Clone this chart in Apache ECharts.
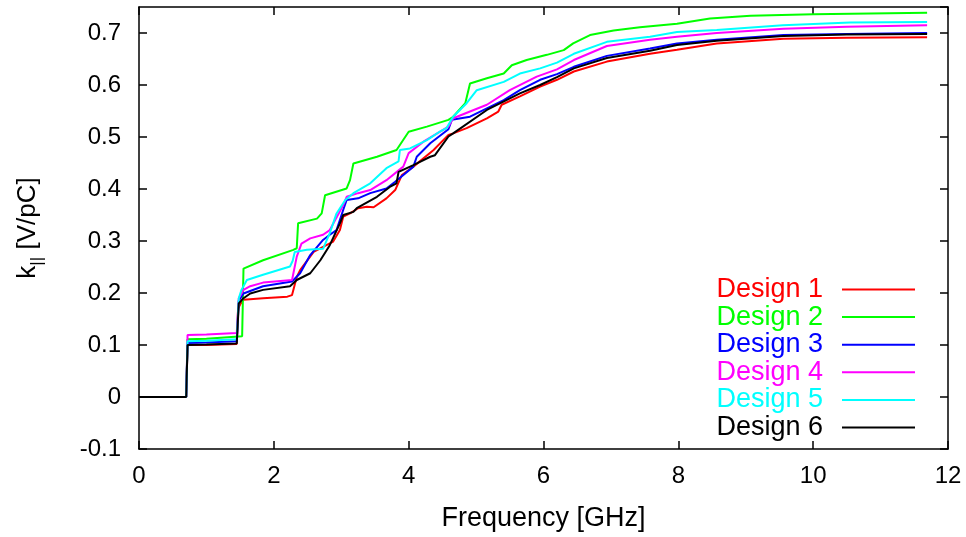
<!DOCTYPE html>
<html>
<head>
<meta charset="utf-8">
<script src="https://cdn.jsdelivr.net/npm/echarts@6/dist/echarts.min.js"></script>
<style>html,body{margin:0;padding:0;background:#fff}#c{width:966px;height:537px}</style>
</head>
<body>
<div id="c"></div>
<script>
var seriesNames = ['Design 1','Design 2','Design 3','Design 4','Design 5','Design 6'];
var seriesColors = ['#ff0000','#00ff00','#0000ff','#ff00ff','#00ffff','#000000'];
var xTicks = [0,2,4,6,8,10,12];
var yTicks = [-0.1,0,0.1,0.2,0.3,0.4,0.5,0.6,0.7];

var d1 = [[0,0],[0.70,0],[0.72,0.100],[1.0,0.100],[1.45,0.102],[1.47,0.170],[1.50,0.178],[1.55,0.187],[1.84,0.190],[2.2,0.193],[2.27,0.196],[2.34,0.231],[2.39,0.244],[2.59,0.279],[2.78,0.292],[2.88,0.299],[2.98,0.321],[3.03,0.347],[3.13,0.353],[3.25,0.363],[3.38,0.366],[3.48,0.365],[3.67,0.382],[3.80,0.398],[3.90,0.427],[4.07,0.443],[4.37,0.475],[4.59,0.504],[4.66,0.507],[4.86,0.517],[5.16,0.536],[5.33,0.549],[5.38,0.562],[5.65,0.578],[5.95,0.597],[6.20,0.610],[6.45,0.626],[6.94,0.645],[7.58,0.660],[7.98,0.668],[8.57,0.680],[9.56,0.689],[10.5,0.691],[11.69,0.692]];
var d2 = [[0,0],[0.70,0],[0.72,0.111],[1.0,0.112],[1.53,0.117],[1.55,0.247],[1.84,0.263],[2.29,0.283],[2.34,0.286],[2.36,0.334],[2.64,0.343],[2.71,0.353],[2.76,0.388],[3.08,0.401],[3.13,0.417],[3.18,0.449],[3.53,0.462],[3.82,0.475],[4.0,0.510],[4.27,0.520],[4.59,0.533],[4.66,0.539],[4.84,0.565],[4.91,0.603],[5.16,0.613],[5.41,0.622],[5.53,0.638],[5.75,0.648],[6.05,0.658],[6.30,0.667],[6.44,0.680],[6.69,0.696],[7.04,0.705],[7.43,0.711],[7.98,0.718],[8.47,0.728],[9.07,0.733],[10.0,0.736],[11.69,0.739]];
var d3 = [[0,0],[0.70,0],[0.72,0.104],[1.0,0.105],[1.45,0.107],[1.48,0.185],[1.55,0.199],[1.84,0.213],[2.27,0.222],[2.39,0.238],[2.54,0.273],[2.73,0.302],[2.83,0.312],[2.93,0.321],[3.03,0.360],[3.08,0.379],[3.25,0.382],[3.43,0.392],[3.67,0.401],[3.80,0.414],[4.07,0.443],[4.12,0.462],[4.32,0.488],[4.59,0.515],[4.64,0.533],[4.91,0.539],[5.41,0.571],[5.65,0.590],[5.95,0.610],[6.20,0.621],[6.45,0.635],[6.94,0.656],[7.58,0.670],[7.98,0.680],[8.57,0.687],[9.56,0.696],[10.5,0.698],[11.69,0.700]];
var d4 = [[0,0],[0.70,0],[0.72,0.119],[1.0,0.120],[1.45,0.123],[1.48,0.190],[1.55,0.206],[1.65,0.213],[1.84,0.220],[2.27,0.225],[2.34,0.270],[2.41,0.295],[2.54,0.305],[2.73,0.312],[2.83,0.321],[3.03,0.369],[3.08,0.385],[3.25,0.392],[3.43,0.398],[3.67,0.417],[3.92,0.443],[4.0,0.469],[4.22,0.491],[4.59,0.520],[4.66,0.536],[5.16,0.562],[5.50,0.590],[5.90,0.616],[6.20,0.630],[6.45,0.648],[6.94,0.675],[7.58,0.687],[7.98,0.693],[8.57,0.700],[9.56,0.708],[10.5,0.712],[11.69,0.715]];
var d5 = [[0,0],[0.70,0],[0.72,0.107],[1.0,0.108],[1.45,0.111],[1.48,0.190],[1.52,0.206],[1.60,0.225],[1.84,0.235],[2.24,0.251],[2.28,0.262],[2.31,0.279],[2.49,0.283],[2.73,0.285],[2.83,0.315],[2.93,0.353],[3.06,0.379],[3.18,0.392],[3.43,0.411],[3.67,0.440],[3.85,0.453],[3.87,0.475],[4.02,0.478],[4.27,0.494],[4.47,0.511],[4.56,0.517],[4.66,0.539],[4.86,0.565],[5.01,0.590],[5.41,0.606],[5.65,0.622],[5.95,0.632],[6.20,0.643],[6.45,0.660],[6.94,0.683],[7.58,0.693],[7.98,0.702],[8.57,0.706],[9.55,0.715],[10.55,0.720],[11.69,0.721]];
var d6 = [[0,0],[0.70,0],[0.72,0.100],[1.0,0.101],[1.45,0.103],[1.48,0.180],[1.55,0.190],[1.65,0.199],[1.84,0.206],[2.24,0.213],[2.34,0.225],[2.54,0.238],[2.69,0.263],[2.83,0.292],[2.98,0.334],[3.03,0.350],[3.18,0.356],[3.23,0.363],[3.53,0.385],[3.72,0.404],[3.82,0.411],[3.85,0.433],[4.07,0.446],[4.32,0.462],[4.39,0.465],[4.59,0.501],[4.66,0.507],[5.16,0.552],[5.65,0.584],[5.95,0.600],[6.20,0.615],[6.45,0.632],[6.94,0.652],[7.58,0.666],[7.98,0.677],[8.57,0.685],[9.56,0.694],[10.5,0.697],[11.69,0.698]];
var allData = [d1,d2,d3,d4,d5,d6];

var FONT = 'Liberation Sans, Arial, sans-serif';
var chart = echarts.init(document.getElementById('c'), null, {renderer:'canvas'});

var axisLine = {show:true, onZero:false, lineStyle:{color:'#000', width:1.5}};
var axisTick = {show:true, inside:true, length:8, lineStyle:{color:'#000', width:1.5}};

var series = seriesNames.map(function(n,i){
  return {
    name:n, type:'line', xAxisIndex:0, yAxisIndex:0,
    data: allData[i], symbol:'none', smooth:false, animation:false,
    lineStyle:{color:seriesColors[i], width:2}, itemStyle:{color:seriesColors[i]}
  };
});

chart.setOption({
  animation:false,
  backgroundColor:'#fff',
  grid:{left:139, right:18, top:7, bottom:88, containLabel:false},
  legend:{
    orient:'vertical', right:46, top:271, align:'right', icon:'rect',
    itemWidth:73, itemHeight:2, itemGap:0.6,
    data: seriesNames.map(function(n,i){ return {name:n, textStyle:{color:seriesColors[i]}}; }),
    textStyle:{fontFamily:FONT, fontSize:27, padding:[0,14,0,0]}
  },
  xAxis:[{
    type:'value', min:0, max:12, interval:2, position:'bottom',
    name:'Frequency [GHz]', nameLocation:'middle', nameGap:56,
    nameTextStyle:{fontFamily:FONT, fontSize:27, color:'#000'},
    axisLine:axisLine, axisTick:axisTick, splitLine:{show:false},
    axisLabel:{fontFamily:FONT, fontSize:24, color:'#000', margin:15}
  },{
    type:'value', min:0, max:12, interval:2, position:'top',
    axisLine:axisLine, axisTick:axisTick, splitLine:{show:false}, axisLabel:{show:false}
  }],
  yAxis:[{
    type:'value', min:-0.1, max:0.75, interval:0.1, position:'left',
    name:'k{sub|||} [V/pC]', nameLocation:'middle', nameGap:93, nameRotate:90,
    nameTextStyle:{fontFamily:FONT, fontSize:26, color:'#000',
      rich:{sub:{fontFamily:FONT, fontSize:17, color:'#000', verticalAlign:'bottom', lineHeight:36}}},
    axisLine:axisLine, axisTick:axisTick, splitLine:{show:false},
    axisLabel:{fontFamily:FONT, fontSize:24, color:'#000', margin:18, showMaxLabel:false,
      formatter:function(v){ return Math.round(v*10)/10 + ''; }}
  },{
    type:'value', min:-0.1, max:0.75, interval:0.1, position:'right',
    axisLine:axisLine, axisTick:axisTick, splitLine:{show:false}, axisLabel:{show:false}
  }],
  series: series
});
</script>
</body>
</html>
